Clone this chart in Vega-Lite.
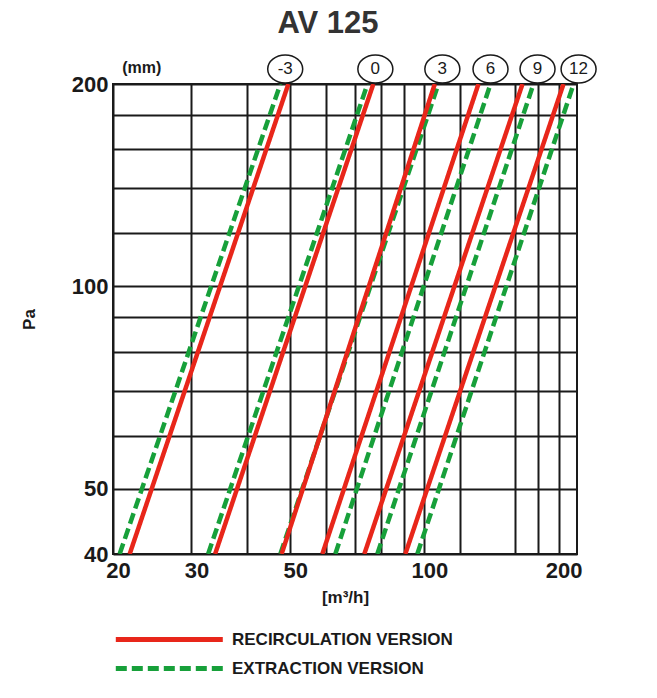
{
  "$schema": "https://vega.github.io/schema/vega-lite/v6.json",
  "width": 464,
  "height": 470,
  "autosize": {"type": "none"},
  "padding": {"left": 113, "top": 84, "right": 80, "bottom": 144},
  "background": "white",
  "title": {
    "text": "AV 125",
    "font": "Liberation Sans",
    "fontSize": 31,
    "fontWeight": "bold",
    "color": "#333333",
    "anchor": "middle",
    "frame": "group",
    "offset": 12,
    "dx": -17
  },
  "config": {
    "view": {"stroke": "#1a1a1a", "strokeWidth": 2},
    "font": "Liberation Sans"
  },
  "datasets": {
    "curves": [
      {"mm": "-3", "version": "EXTRACTION VERSION", "flow": 20.7, "pa": 40},
      {"mm": "-3", "version": "EXTRACTION VERSION", "flow": 47.5, "pa": 200},
      {"mm": "0", "version": "EXTRACTION VERSION", "flow": 32.7, "pa": 40},
      {"mm": "0", "version": "EXTRACTION VERSION", "flow": 74.5, "pa": 200},
      {"mm": "3", "version": "EXTRACTION VERSION", "flow": 47.5, "pa": 40},
      {"mm": "3", "version": "EXTRACTION VERSION", "flow": 107.5, "pa": 200},
      {"mm": "6", "version": "EXTRACTION VERSION", "flow": 63.1, "pa": 40},
      {"mm": "6", "version": "EXTRACTION VERSION", "flow": 140.7, "pa": 200},
      {"mm": "9", "version": "EXTRACTION VERSION", "flow": 78.4, "pa": 40},
      {"mm": "9", "version": "EXTRACTION VERSION", "flow": 175.7, "pa": 200},
      {"mm": "12", "version": "EXTRACTION VERSION", "flow": 96.4, "pa": 40},
      {"mm": "12", "version": "EXTRACTION VERSION", "flow": 216.2, "pa": 200},
      {"mm": "-3", "version": "RECIRCULATION VERSION", "flow": 21.8, "pa": 40},
      {"mm": "-3", "version": "RECIRCULATION VERSION", "flow": 49.5, "pa": 200},
      {"mm": "0", "version": "RECIRCULATION VERSION", "flow": 33.9, "pa": 40},
      {"mm": "0", "version": "RECIRCULATION VERSION", "flow": 76.8, "pa": 200},
      {"mm": "3", "version": "RECIRCULATION VERSION", "flow": 47.8, "pa": 40},
      {"mm": "3", "version": "RECIRCULATION VERSION", "flow": 105.5, "pa": 200},
      {"mm": "6", "version": "RECIRCULATION VERSION", "flow": 59.0, "pa": 40},
      {"mm": "6", "version": "RECIRCULATION VERSION", "flow": 132.2, "pa": 200},
      {"mm": "9", "version": "RECIRCULATION VERSION", "flow": 73.3, "pa": 40},
      {"mm": "9", "version": "RECIRCULATION VERSION", "flow": 166.0, "pa": 200},
      {"mm": "12", "version": "RECIRCULATION VERSION", "flow": 90.6, "pa": 40},
      {"mm": "12", "version": "RECIRCULATION VERSION", "flow": 205.2, "pa": 200}
    ],
    "settings": [
      {"mm": "-3", "flow": 48.7},
      {"mm": "0", "flow": 77.6},
      {"mm": "3", "flow": 109.7},
      {"mm": "6", "flow": 140.7},
      {"mm": "9", "flow": 179.4},
      {"mm": "12", "flow": 221.8}
    ]
  },
  "layer": [
    {
      "data": {"name": "curves"},
      "mark": {"type": "line", "strokeWidth": 4.5, "clip": true},
      "encoding": {
        "x": {
          "field": "flow",
          "type": "quantitative",
          "scale": {"type": "log", "domain": [20, 220], "nice": false},
          "axis": {
            "values": [20, 30, 40, 50, 60, 70, 80, 90, 100, 120, 160, 180, 200],
            "labelExpr": "indexof([20, 30, 50, 100, 200], datum.value) >= 0 ? format(datum.value, 'd') : ''",
            "grid": true,
            "gridColor": "#1a1a1a",
            "gridWidth": 2,
            "gridOpacity": 1,
            "ticks": false,
            "domain": false,
            "labelFlush": false,
            "labelOverlap": false,
            "labelOffset": 5,
            "labelPadding": 6,
            "labelFont": "Liberation Sans",
            "labelFontSize": 22,
            "labelFontWeight": "bold",
            "labelColor": "#1a1a1a",
            "title": "[m³/h]",
            "titleFont": "Liberation Sans",
            "titleFontSize": 17,
            "titleFontWeight": "bold",
            "titleColor": "#1a1a1a",
            "titlePadding": 8
          }
        },
        "y": {
          "field": "pa",
          "type": "quantitative",
          "scale": {"type": "log", "domain": [40, 200], "nice": false},
          "axis": {
            "values": [40, 50, 60, 70, 80, 90, 100, 120, 140, 160, 180, 200],
            "labelExpr": "indexof([40, 50, 100, 200], datum.value) >= 0 ? format(datum.value, 'd') : ''",
            "grid": true,
            "gridColor": "#1a1a1a",
            "gridWidth": 2,
            "gridOpacity": 1,
            "ticks": false,
            "domain": false,
            "labelOverlap": false,
            "labelPadding": 5,
            "labelFont": "Liberation Sans",
            "labelFontSize": 22,
            "labelFontWeight": "bold",
            "labelColor": "#1a1a1a",
            "title": "Pa",
            "titleFont": "Liberation Sans",
            "titleFontSize": 17,
            "titleFontWeight": "bold",
            "titleColor": "#1a1a1a",
            "titlePadding": 33
          }
        },
        "color": {
          "field": "version",
          "type": "nominal",
          "scale": {
            "domain": ["RECIRCULATION VERSION", "EXTRACTION VERSION"],
            "range": ["#e8261a", "#17a03a"]
          },
          "legend": {
            "title": null,
            "orient": "none",
            "legendX": 0,
            "legendY": 542,
            "direction": "vertical",
            "symbolType": "M-1,0H9",
            "symbolSize": 458,
            "symbolStrokeWidth": 5,
            "labelFont": "Liberation Sans",
            "labelFontSize": 17,
            "labelFontWeight": "bold",
            "labelColor": "#1a1a1a",
            "labelOffset": 92,
            "labelLimit": 400,
            "rowPadding": 5
          }
        },
        "strokeDash": {
          "field": "version",
          "type": "nominal",
          "scale": {
            "domain": ["RECIRCULATION VERSION", "EXTRACTION VERSION"],
            "range": [[1, 0], [11, 5]]
          }
        },
        "detail": {"field": "mm"}
      }
    },
    {
      "data": {"name": "settings"},
      "mark": {
        "type": "point",
        "shape": "M-1,0A1,0.8,0,1,1,1,0A1,0.8,0,1,1,-1,0Z",
        "size": 1225,
        "filled": true,
        "fill": "white",
        "stroke": "#1a1a1a",
        "strokeWidth": 1.5,
        "opacity": 1,
        "yOffset": -15
      },
      "encoding": {
        "x": {"field": "flow", "type": "quantitative"},
        "y": {"datum": 200, "type": "quantitative"}
      }
    },
    {
      "data": {"name": "settings"},
      "mark": {
        "type": "text",
        "font": "Liberation Sans",
        "fontSize": 17,
        "color": "#1a1a1a",
        "baseline": "middle",
        "yOffset": -15
      },
      "encoding": {
        "x": {"field": "flow", "type": "quantitative"},
        "y": {"datum": 200, "type": "quantitative"},
        "text": {"field": "mm"}
      }
    },
    {
      "data": {"values": [{}]},
      "mark": {
        "type": "text",
        "font": "Liberation Sans",
        "fontSize": 16,
        "fontWeight": "bold",
        "color": "#1a1a1a",
        "baseline": "middle",
        "yOffset": -16
      },
      "encoding": {
        "x": {"datum": 23.2, "type": "quantitative"},
        "y": {"datum": 200, "type": "quantitative"},
        "text": {"value": "(mm)"}
      }
    }
  ]
}
